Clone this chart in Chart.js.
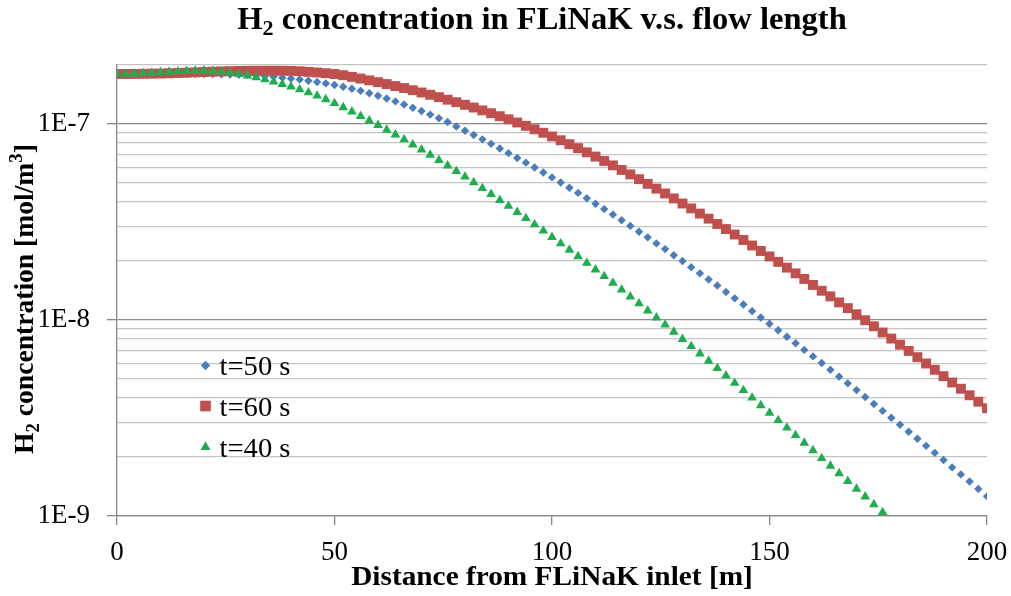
<!DOCTYPE html>
<html>
<head>
<meta charset="utf-8">
<script src="https://cdn.jsdelivr.net/npm/chart.js@4.4.1/dist/chart.umd.min.js"></script>
<style>
  html, body { margin: 0; padding: 0; background: #fff; }
  #wrap { width: 1011px; height: 596px; }
</style>
</head>
<body>
<div id="wrap"><canvas id="chart" width="1011" height="596"></canvas></div>
<script>
// Distance from inlet [m]
const distance = [
  0, 2, 4, 6, 8, 10, 12, 14, 16, 18,
  20, 22, 24, 26, 28, 30, 32, 34, 36, 38,
  40, 42, 44, 46, 48, 50, 52, 54, 56, 58,
  60, 62, 64, 66, 68, 70, 72, 74, 76, 78,
  80, 82, 84, 86, 88, 90, 92, 94, 96, 98,
  100, 102, 104, 106, 108, 110, 112, 114, 116, 118,
  120, 122, 124, 126, 128, 130, 132, 134, 136, 138,
  140, 142, 144, 146, 148, 150, 152, 154, 156, 158,
  160, 162, 164, 166, 168, 170, 172, 174, 176, 178,
  180, 182, 184, 186, 188, 190, 192, 194, 196, 198,
  200,
];

// H2 concentration [mol/m3], t = 50 s
const t50 = [
  1.80e-7, 1.80e-7, 1.80e-7, 1.80e-7, 1.80e-7, 1.80e-7, 1.80e-7, 1.80e-7, 1.80e-7, 1.80e-7,
  1.80e-7, 1.80e-7, 1.795e-7, 1.79e-7, 1.785e-7, 1.777e-7, 1.766e-7, 1.754e-7, 1.740e-7, 1.724e-7,
  1.706e-7, 1.687e-7, 1.663e-7, 1.638e-7, 1.611e-7, 1.581e-7, 1.549e-7, 1.514e-7, 1.476e-7, 1.435e-7,
  1.393e-7, 1.349e-7, 1.304e-7, 1.258e-7, 1.211e-7, 1.164e-7, 1.117e-7, 1.070e-7, 1.024e-7, 9.71e-8,
  9.23e-8, 8.79e-8, 8.35e-8, 7.92e-8, 7.50e-8, 7.10e-8, 6.71e-8, 6.35e-8, 6.00e-8, 5.66e-8,
  5.34e-8, 5.03e-8, 4.73e-8, 4.45e-8, 4.18e-8, 3.92e-8, 3.68e-8, 3.45e-8, 3.23e-8, 3.02e-8,
  2.82e-8, 2.64e-8, 2.46e-8, 2.30e-8, 2.14e-8, 2.00e-8, 1.86e-8, 1.73e-8, 1.61e-8, 1.50e-8,
  1.39e-8, 1.29e-8, 1.20e-8, 1.11e-8, 1.03e-8, 9.57e-9, 8.87e-9, 8.22e-9, 7.61e-9, 7.04e-9,
  6.52e-9, 6.03e-9, 5.57e-9, 5.14e-9, 4.75e-9, 4.39e-9, 4.05e-9, 3.73e-9, 3.44e-9, 3.17e-9,
  2.92e-9, 2.69e-9, 2.48e-9, 2.28e-9, 2.10e-9, 1.93e-9, 1.77e-9, 1.63e-9, 1.50e-9, 1.375e-9,
  1.26e-9,
];

// t = 60 s
const t60 = [
  1.800e-7, 1.800e-7, 1.801e-7, 1.803e-7, 1.806e-7, 1.810e-7, 1.815e-7, 1.821e-7, 1.828e-7, 1.835e-7,
  1.842e-7, 1.849e-7, 1.855e-7, 1.860e-7, 1.864e-7, 1.867e-7, 1.869e-7, 1.870e-7, 1.870e-7, 1.869e-7,
  1.866e-7, 1.858e-7, 1.845e-7, 1.832e-7, 1.816e-7, 1.799e-7, 1.774e-7, 1.740e-7, 1.705e-7, 1.670e-7,
  1.635e-7, 1.599e-7, 1.562e-7, 1.525e-7, 1.487e-7, 1.448e-7, 1.410e-7, 1.371e-7, 1.331e-7, 1.292e-7,
  1.253e-7, 1.214e-7, 1.174e-7, 1.135e-7, 1.096e-7, 1.057e-7, 1.018e-7, 9.79e-8, 9.40e-8, 9.02e-8,
  8.64e-8, 8.26e-8, 7.89e-8, 7.53e-8, 7.17e-8, 6.82e-8, 6.48e-8, 6.15e-8, 5.83e-8, 5.53e-8,
  5.23e-8, 4.95e-8, 4.68e-8, 4.42e-8, 4.17e-8, 3.93e-8, 3.71e-8, 3.49e-8, 3.29e-8, 3.09e-8,
  2.91e-8, 2.73e-8, 2.56e-8, 2.40e-8, 2.25e-8, 2.11e-8, 1.98e-8, 1.85e-8, 1.73e-8, 1.62e-8,
  1.51e-8, 1.41e-8, 1.32e-8, 1.23e-8, 1.15e-8, 1.07e-8, 9.97e-9, 9.29e-9, 8.64e-9, 8.04e-9,
  7.48e-9, 6.95e-9, 6.46e-9, 6.00e-9, 5.57e-9, 5.17e-9, 4.80e-9, 4.46e-9, 4.13e-9, 3.83e-9,
  3.55e-9,
];

// t = 40 s (drops below the axis after 176 m)
const t40 = [
  1.793e-7, 1.799e-7, 1.807e-7, 1.816e-7, 1.824e-7, 1.833e-7, 1.844e-7, 1.853e-7, 1.862e-7, 1.868e-7,
  1.870e-7, 1.862e-7, 1.846e-7, 1.824e-7, 1.797e-7, 1.764e-7, 1.727e-7, 1.687e-7, 1.644e-7, 1.598e-7,
  1.550e-7, 1.500e-7, 1.448e-7, 1.393e-7, 1.335e-7, 1.275e-7, 1.215e-7, 1.156e-7, 1.097e-7, 1.041e-7,
  9.86e-8, 9.33e-8, 8.82e-8, 8.33e-8, 7.85e-8, 7.40e-8, 6.96e-8, 6.54e-8, 6.13e-8, 5.75e-8,
  5.38e-8, 5.04e-8, 4.70e-8, 4.388e-8, 4.091e-8, 3.813e-8, 3.549e-8, 3.303e-8, 3.071e-8, 2.853e-8,
  2.648e-8, 2.457e-8, 2.278e-8, 2.111e-8, 1.954e-8, 1.808e-8, 1.672e-8, 1.545e-8, 1.426e-8, 1.316e-8,
  1.213e-8, 1.117e-8, 1.028e-8, 9.46e-9, 8.70e-9, 7.99e-9, 7.34e-9, 6.74e-9, 6.18e-9, 5.67e-9,
  5.20e-9, 4.77e-9, 4.38e-9, 4.01e-9, 3.67e-9, 3.36e-9, 3.08e-9, 2.82e-9, 2.58e-9, 2.36e-9,
  2.16e-9, 1.97e-9, 1.80e-9, 1.65e-9, 1.506e-9, 1.375e-9, 1.256e-9, 1.146e-9, 1.045e-9,
];

const seriesLabels = ['t=50 s', 't=60 s', 't=40 s'];
const xTicks = [0, 50, 100, 150, 200];
const yTickValues = [
  1e-9, 2e-9, 3e-9, 4e-9, 5e-9, 6e-9, 7e-9, 8e-9, 9e-9,
  1e-8, 2e-8, 3e-8, 4e-8, 5e-8, 6e-8, 7e-8, 8e-8, 9e-8,
  1e-7, 2e-7,
];
const yMajorTicks = [1e-9, 1e-8, 1e-7];
const yMajorLabels = ['1E-9', '1E-8', '1E-7'];

const BLUE = '#4a7ebb';
const RED = '#c0504d';
const GREEN = '#1fae4f';
const AXIS = '#878787';
const GRID_MAJOR = '#8c8c8c';
const GRID_MINOR = '#c4c4c4';
const FONT = '"Liberation Serif", "Times New Roman", serif';

const majorIndex = (v) => yMajorTicks.findIndex((m) => Math.abs(v / m - 1) < 1e-6);

const toPoints = (values) => values.map((y, i) => ({ x: distance[i], y }));

const legendItems = [
  { label: seriesLabels[0], color: BLUE, style: 'rectRot', radius: 4.7 },
  { label: seriesLabels[1], color: RED, style: 'rect', radius: 7.5 },
  { label: seriesLabels[2], color: GREEN, style: 'triangle', radius: 5.8 },
];

// draw a run of text pieces (sub/superscripts), slightly widened like the original
function drawRich(ctx, parts, x0, baseline, weight, align, sx) {
  let total = 0;
  parts.forEach((p) => {
    ctx.font = `${weight} ${p.size}px ${FONT}`;
    p.w = ctx.measureText(p.text).width;
    total += p.w;
  });
  ctx.save();
  ctx.translate(x0, baseline);
  ctx.scale(sx, 1);
  let x = align === 'center' ? -total / 2 : 0;
  ctx.textAlign = 'left';
  parts.forEach((p) => {
    ctx.font = `${weight} ${p.size}px ${FONT}`;
    ctx.fillText(p.text, x, p.dy || 0);
    x += p.w;
  });
  ctx.restore();
}

const textPlugin = {
  id: 'excelText',
  afterDraw(chart) {
    const { ctx, chartArea } = chart;
    ctx.save();
    ctx.fillStyle = '#000';
    ctx.textBaseline = 'alphabetic';

    // chart title
    drawRich(ctx, [
      { text: 'H', size: 31 },
      { text: '2', size: 21, dy: 6 },
      { text: ' concentration in FLiNaK v.s. flow length', size: 31 },
    ], 542, 29, 'bold', 'center', 1.05);

    // x axis title
    drawRich(ctx, [
      { text: 'Distance from FLiNaK inlet [m]', size: 28 },
    ], (chartArea.left + chartArea.right) / 2, 585, 'bold', 'center', 1.047);

    // y axis title
    ctx.save();
    ctx.translate(33, 299);
    ctx.rotate(-Math.PI / 2);
    drawRich(ctx, [
      { text: 'H', size: 28 },
      { text: '2', size: 19, dy: 6 },
      { text: ' concentration [mol/m', size: 28 },
      { text: '3', size: 19, dy: -11 },
      { text: ']', size: 28 },
    ], 0, 0, 'bold', 'center', 0.985);
    ctx.restore();

    // legend inside the plot
    const legendX = chartArea.left + 88.5;
    const rowY = [365.5, 406, 447];
    legendItems.forEach((item, i) => {
      ctx.fillStyle = item.color;
      Chart.helpers.drawPoint(ctx, {
        pointStyle: item.style, radius: item.radius, rotation: 0, borderWidth: 0,
      }, legendX, rowY[i]);
      ctx.fillStyle = '#000';
      drawRich(ctx, [{ text: item.label, size: 27 }], legendX + 14, rowY[i] + 9.5, 'normal', 'left', 1.06);
    });
    ctx.restore();
  },
};

const ctx = document.getElementById('chart');
// eslint-disable-next-line no-unused-vars
const chart = new Chart(ctx, {
  type: 'scatter',
  data: {
    datasets: [
      {
        label: seriesLabels[0],
        data: toPoints(t50),
        pointStyle: 'rectRot',
        pointRadius: 4.2,
        pointBackgroundColor: BLUE,
        pointBorderColor: BLUE,
        pointBorderWidth: 0,
        order: 2,
      },
      {
        label: seriesLabels[1],
        data: toPoints(t60),
        pointStyle: 'rect',
        pointRadius: 7,
        pointBackgroundColor: RED,
        pointBorderColor: RED,
        pointBorderWidth: 0,
        order: 1,
      },
      {
        label: seriesLabels[2],
        data: toPoints(t40),
        pointStyle: 'triangle',
        pointRadius: 5.6,
        pointBackgroundColor: GREEN,
        pointBorderColor: GREEN,
        pointBorderWidth: 0,
        order: 0,
      },
    ],
  },
  options: {
    responsive: false,
    devicePixelRatio: 1,
    animation: false,
    events: [],
    layout: {
      padding: {
        top: 65, right: 24, left: 0, bottom: 0,
      },
    },
    scales: {
      x: {
        type: 'linear',
        min: 0,
        max: 200,
        afterBuildTicks: (axis) => { axis.ticks = xTicks.map((v) => ({ value: v })); },
        afterFit: (axis) => {
          axis.height = 80;
          axis.paddingLeft = 0;
          axis.paddingRight = 0;
        },
        border: { color: AXIS, width: 1.3 },
        grid: {
          drawOnChartArea: false,
          drawTicks: true,
          tickLength: 9,
          color: AXIS,
          tickColor: AXIS,
          lineWidth: 1.3,
        },
        ticks: {
          padding: 12,
          maxRotation: 0,
          color: '#000',
          font: { family: FONT, size: 27 },
        },
      },
      y: {
        type: 'logarithmic',
        min: 1e-9,
        max: 2e-7,
        afterBuildTicks: (axis) => { axis.ticks = yTickValues.map((v) => ({ value: v })); },
        afterFit: (axis) => {
          axis.width = 117;
          axis.paddingTop = 0;
          axis.paddingBottom = 0;
        },
        border: { color: AXIS, width: 1.3 },
        grid: {
          color: (c) => (c.tick && majorIndex(c.tick.value) >= 0 ? GRID_MAJOR : GRID_MINOR),
          tickColor: (c) => (c.tick && majorIndex(c.tick.value) >= 0 ? AXIS : 'rgba(0,0,0,0)'),
          tickLength: 10,
          lineWidth: 1.3,
        },
        ticks: {
          autoSkip: false,
          padding: 17,
          color: '#000',
          font: { family: FONT, size: 27 },
          callback: (v) => {
            const i = majorIndex(v);
            return i >= 0 ? yMajorLabels[i] : '';
          },
        },
      },
    },
    plugins: {
      legend: { display: false },
      tooltip: { enabled: false },
      title: { display: false },
    },
  },
  plugins: [textPlugin],
});
</script>
</body>
</html>
